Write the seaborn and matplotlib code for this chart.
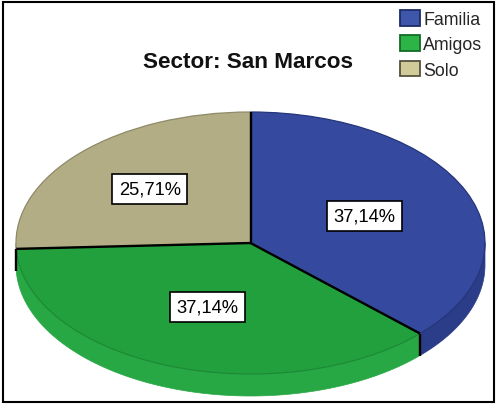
import matplotlib
matplotlib.use("Agg")
import matplotlib.pyplot as plt
import seaborn as sns
import numpy as np
from matplotlib.patches import Patch, Rectangle

# ---- data ----
categories = ["Familia", "Amigos", "Solo"]
counts = [13, 13, 9]
title = "Sector: San Marcos"

# ---- styles ----
top_colors = ["#35499E", "#22A03D", "#B2AD84"]
rim_colors = ["#25357A", "#1C8A35", "#8E8A69"]
side_colors = ["#2B3C88", "#27A844", "#9E9973"]
legend_colors = ["#3F57AA", "#2DB446", "#D0CB98"]
legend_edges = ["#1E2C66", "#146B28", "#55533E"]
label_dist = [0.53, 0.52, 0.595]

sns.set_theme(style="white")
plt.rcParams["font.family"] = ["Liberation Sans", "DejaVu Sans"]

W, H = 497, 406
fig = plt.figure(figsize=(W / 100, H / 100), dpi=100)
fig.patch.set_facecolor("white")
ax = fig.add_axes([0, 0, 1, 1])

cx_px, cy_px = 250.5, 244.0   # centre of pie, pixels from left / top
rx_px, ry_px = 234.5, 131.0   # semi axes in pixels
depth = 22.0 / ry_px

wedges, texts, autotexts = ax.pie(
    counts, colors=top_colors, startangle=90, counterclock=False, radius=1,
    autopct=lambda p: f"{p:.2f}%".replace(".", ","), pctdistance=0.55,
    wedgeprops=dict(linewidth=0.9),
    textprops=dict(fontsize=13.2, color="black"),
)
for w, ec in zip(wedges, rim_colors):
    w.set_edgecolor(ec)
    w.set_zorder(1)

ax.set_aspect("auto")
ax.set_xlim(-cx_px / rx_px, (W - cx_px) / rx_px)
ax.set_ylim(-(H - cy_px) / ry_px, cy_px / ry_px)
ax.axis("off")

# side (3D depth) of the visible front half
for w, sc, ec in zip(wedges, side_colors, rim_colors):
    t1, t2 = w.theta1, w.theta2
    for k in (-1, 0, 1):
        lo = max(t1, 180 + 360 * k)
        hi = min(t2, 360 + 360 * k)
        if hi > lo:
            t = np.radians(np.linspace(lo, hi, 200))
            xs = np.concatenate([np.cos(t), np.cos(t[::-1])])
            ys = np.concatenate([np.sin(t), np.sin(t[::-1]) - depth])
            ax.fill(xs, ys, facecolor=sc, edgecolor=sc, linewidth=0.5, zorder=0.5)

# slice boundary lines
for w in wedges:
    t = np.radians(w.theta1)
    ax.plot([0, np.cos(t)], [0, np.sin(t)], color="black", lw=1.7, zorder=2,
            solid_capstyle="butt")
    if np.sin(t) < -1e-6:
        ax.plot([np.cos(t), np.cos(t)], [np.sin(t), np.sin(t) - depth],
                color="black", lw=1.7, zorder=2, solid_capstyle="butt")

# percentage labels
for w, at, d in zip(wedges, autotexts, label_dist):
    mid = np.radians((w.theta1 + w.theta2) / 2)
    at.set_position((d * np.cos(mid), d * np.sin(mid)))
    at.set_ha("center")
    at.set_va("center")
    at.set_bbox(dict(boxstyle="square,pad=0.36", facecolor="white",
                     edgecolor="black", linewidth=1.2))
    at.set_zorder(5)

# legend
handles = [Patch(facecolor=c, edgecolor=e, linewidth=1.3)
           for c, e in zip(legend_colors, legend_edges)]
fig.legend(handles, categories, loc="upper left",
           bbox_to_anchor=(400 / W, 1 - 11 / H), frameon=False, fontsize=12.8,
           handlelength=1.1, handleheight=0.98, handletextpad=0.2,
           labelspacing=0.42, borderpad=0, borderaxespad=0)

fig.text(248 / W, 1 - 63 / H, title, ha="center", va="center",
         fontsize=16.2, fontweight="bold", color="#111111")

fig.add_artist(Rectangle((3 / W, 3 / H), (494 - 3) / W, (403 - 3) / H,
                         transform=fig.transFigure, fill=False,
                         edgecolor="black", linewidth=1.5))

fig.savefig("out.png", dpi=100)
